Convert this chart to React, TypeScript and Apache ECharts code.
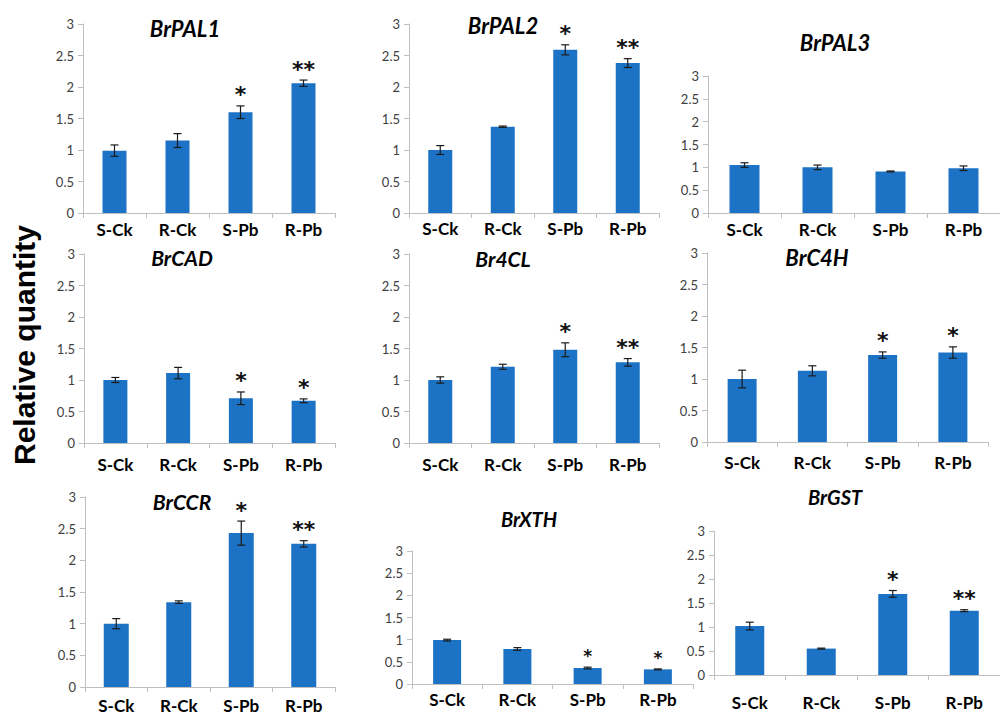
import React, { useEffect, useRef } from "react";
import * as echarts from "echarts";

const categories = ["S-Ck", "R-Ck", "S-Pb", "R-Pb"];
const genes = ["BrPAL1", "BrPAL2", "BrPAL3", "BrCAD", "Br4CL", "BrC4H", "BrCCR", "BrXTH", "BrGST"];

const pal1Mean = [0.99, 1.15, 1.6, 2.06];
const pal1Err = [0.09, 0.11, 0.1, 0.05];
const pal1Sig = ["", "", "*", "**"];

const pal2Mean = [1.0, 1.37, 2.59, 2.38];
const pal2Err = [0.07, 0.01, 0.08, 0.07];
const pal2Sig = ["", "", "*", "**"];

const pal3Mean = [1.05, 1.0, 0.91, 0.98];
const pal3Err = [0.05, 0.05, 0.01, 0.05];
const pal3Sig = ["", "", "", ""];

const cadMean = [1.0, 1.11, 0.71, 0.67];
const cadErr = [0.04, 0.09, 0.1, 0.03];
const cadSig = ["", "", "*", "*"];

const cl4Mean = [1.0, 1.21, 1.48, 1.28];
const cl4Err = [0.05, 0.04, 0.11, 0.06];
const cl4Sig = ["", "", "*", "**"];

const c4hMean = [1.0, 1.13, 1.38, 1.42];
const c4hErr = [0.14, 0.08, 0.05, 0.09];
const c4hSig = ["", "", "*", "*"];

const ccrMean = [1.0, 1.34, 2.43, 2.26];
const ccrErr = [0.08, 0.02, 0.19, 0.05];
const ccrSig = ["", "", "*", "**"];

const xthMean = [0.99, 0.79, 0.36, 0.33];
const xthErr = [0.02, 0.03, 0.02, 0.01];
const xthSig = ["", "", "*", "*"];

const gstMean = [1.02, 0.55, 1.69, 1.34];
const gstErr = [0.08, 0.01, 0.07, 0.02];
const gstSig = ["", "", "*", "**"];

const yMin = 0;
const yMax = 3;
const yStep = 0.5;
const yAxisTitle = "Relative quantity";

const means = [pal1Mean, pal2Mean, pal3Mean, cadMean, cl4Mean, c4hMean, ccrMean, xthMean, gstMean];
const errs = [pal1Err, pal2Err, pal3Err, cadErr, cl4Err, c4hErr, ccrErr, xthErr, gstErr];
const sigs = [pal1Sig, pal2Sig, pal3Sig, cadSig, cl4Sig, c4hSig, ccrSig, xthSig, gstSig];

// layout (pixels)
const layout = [
  { left: 83, top: 24, width: 252, height: 189, barW: 24, tx: 185, ty: 28, ts: 22, lm: 8, ss: 22 },
  { left: 409, top: 24, width: 250, height: 189, barW: 24, tx: 503, ty: 25, ts: 22, lm: 7, ss: 22 },
  { left: 708, top: 76, width: 308, height: 137, barW: 30, tx: 835, ty: 42, ts: 22, lm: 8, ss: 22 },
  { left: 84, top: 254, width: 251, height: 189, barW: 24, tx: 182, ty: 257, ts: 21, lm: 13, ss: 22 },
  { left: 409, top: 254, width: 250, height: 189, barW: 24, tx: 503, ty: 258, ts: 21, lm: 13, ss: 22 },
  { left: 707, top: 253, width: 281, height: 189, barW: 29, tx: 817, ty: 257, ts: 22, lm: 12, ss: 22 },
  { left: 85, top: 497, width: 250, height: 190, barW: 25, tx: 182, ty: 501, ts: 21, lm: 10, ss: 22 },
  { left: 412, top: 551, width: 281, height: 133, barW: 28, tx: 529, ty: 519, ts: 20, lm: 7, ss: 17 },
  { left: 714, top: 531, width: 290, height: 144, barW: 29, tx: 835, ty: 497, ts: 20, lm: 19, ss: 22 },
];

const BAR = "#1c72c4";
const AXIS = "#bfbfbf";
const FONT = "Lato, 'Open Sans', sans-serif";
const STAR_FONT = "'DejaVu Sans', sans-serif";

export default function App() {
  const ref = useRef<HTMLDivElement>(null);
  useEffect(() => {
    if (!ref.current) return;
    const chart = echarts.init(ref.current, null, { renderer: "svg" });
    const grid: any[] = [];
    const xAxis: any[] = [];
    const yAxis: any[] = [];
    const series: any[] = [];
    const graphic: any[] = [];
    layout.forEach((L, i) => {
      grid.push({ left: L.left, top: L.top, width: L.width, height: L.height, containLabel: false });
      xAxis.push({
        type: "category",
        gridIndex: i,
        data: categories,
        axisLine: { show: true, lineStyle: { color: AXIS, width: 1 } },
        axisTick: { show: true, length: 5, lineStyle: { color: AXIS } },
        axisLabel: { interval: 0, margin: L.lm, fontFamily: FONT, fontWeight: "bold", fontSize: 17, color: "#000" },
      });
      yAxis.push({
        type: "value",
        gridIndex: i,
        min: yMin,
        max: yMax,
        interval: yStep,
        axisLine: { show: true, lineStyle: { color: AXIS, width: 1 } },
        axisTick: { show: true, length: 5, lineStyle: { color: AXIS } },
        splitLine: { show: false },
        axisLabel: { margin: 9, fontFamily: FONT, fontSize: 13, color: "#404040" },
      });
      series.push({
        type: "bar",
        xAxisIndex: i,
        yAxisIndex: i,
        data: means[i],
        barWidth: L.barW,
        itemStyle: { color: BAR },
        z: 2,
      });
      const stars = sigs[i];
      const ss = L.ss;
      series.push({
        type: "custom",
        xAxisIndex: i,
        yAxisIndex: i,
        z: 3,
        data: means[i].map((m, j) => [j, m, errs[i][j]]),
        encode: { x: 0, y: 1 },
        renderItem: (params: any, api: any) => {
          const idx = params.dataIndex;
          const xv = api.value(0);
          const m = api.value(1);
          const e = api.value(2);
          const top = api.coord([xv, m + e]);
          const bot = api.coord([xv, m - e]);
          const cx = top[0];
          const ls = { stroke: "#1a1a1a", lineWidth: 1.2 };
          const children: any[] = [
            { type: "line", shape: { x1: cx, y1: top[1], x2: cx, y2: bot[1] }, style: ls },
            { type: "line", shape: { x1: cx - 4, y1: top[1], x2: cx + 4, y2: top[1] }, style: ls },
            { type: "line", shape: { x1: cx - 4, y1: bot[1], x2: cx + 4, y2: bot[1] }, style: ls },
          ];
          if (stars[idx]) {
            children.push({
              type: "text",
              x: cx,
              y: top[1] - 11,
              style: {
                text: stars[idx],
                align: "center",
                verticalAlign: "middle",
                fontFamily: STAR_FONT,
                fontWeight: "bold",
                fontSize: ss,
                fill: "#111",
              },
            });
          }
          return { type: "group", children };
        },
      });
      graphic.push({
        type: "text",
        x: L.tx,
        y: L.ty,
        style: {
          text: genes[i],
          align: "center",
          verticalAlign: "middle",
          fontFamily: FONT,
          fontWeight: "bold",
          fontStyle: "italic",
          fontSize: L.ts,
          fill: "#000",
        },
      });
    });
    graphic.push({
      type: "text",
      x: 24,
      y: 345,
      rotation: Math.PI / 2,
      style: {
        text: yAxisTitle,
        align: "center",
        verticalAlign: "middle",
        fontFamily: "'Liberation Sans', Arial, sans-serif",
        fontWeight: "bold",
        fontSize: 30,
        fill: "#000",
      },
    });
    chart.setOption({
      animation: false,
      backgroundColor: "#fff",
      grid,
      xAxis,
      yAxis,
      series,
      graphic,
    });
    return () => chart.dispose();
  }, []);
  return (
    <div
      ref={ref}
      style={{ position: "absolute", left: 0, top: 0, width: 1000, height: 715 }}
    />
  );
}
